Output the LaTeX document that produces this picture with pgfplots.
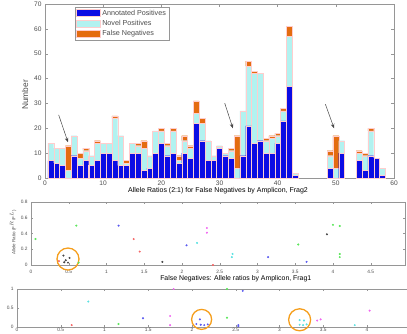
\documentclass[border=0pt]{standalone}
\usepackage{fontspec}
\setmainfont{Liberation Sans}
\usepackage{pgfplots}
\pgfplotsset{compat=1.18}
\usepackage{pgfplotstable}
\usetikzlibrary{arrows.meta}
\definecolor{annot}{RGB}{12,12,228}
\definecolor{novel}{RGB}{178,242,240}
\definecolor{fneg}{RGB}{228,108,16}
\definecolor{axiscol}{RGB}{150,150,150}
\definecolor{labcol}{RGB}{75,75,75}
\definecolor{ring}{RGB}{245,158,28}
\definecolor{edgecol}{RGB}{255,205,205}
\definecolor{pgreen}{RGB}{90,230,90}
\definecolor{pblue}{RGB}{90,90,240}
\definecolor{pred}{RGB}{245,100,100}
\definecolor{pblack}{RGB}{70,70,70}
\definecolor{pcyan}{RGB}{90,225,225}
\definecolor{pmag}{RGB}{240,100,240}
\pgfplotsset{mylegimg/.style={legend image code/.code={\fill[##1] (0pt,-3.3pt) rectangle (24pt,3.7pt);}}}
\pgfplotstableread{
x A N F
1 7 7 0
2 6 6 0
3 5 7 0
4 0 3 10
5 9 8 0
6 5 3 2
7 7 4 1
8 5 4 0
9 7 7 1
10 10 4 0
11 10 4 0
12 7 17 1
13 5 12 0
14 5 1 1
15 10 4 0
16 10 3 1
17 3 9 3
18 4 5 0
19 10 9 0
20 14 5 1
21 9 4 1
22 10 9 1
23 6 1 2
24 10 5 2
25 8 4 1
26 22 4 5
27 15 7 2
28 7 8 0
29 7 2 0
30 12 1 0
31 9 1 0
32 8 3 1
33 0 4 13
34 9 18 0
35 21 24 2
36 14 28 1
37 15 27 0
38 10 5 1
39 10 6 1
40 14 3 1
41 23 4 1
42 37 20 4
43 1 1 0
44 0 0 0
45 0 0 0
46 0 0 0
47 0 0 0
48 0 0 0
49 4 5 2
50 0 4 13
51 10 5 0
52 0 0 0
53 0 0 0
54 7 3 1
55 3 6 1
56 9 10 1
57 8 0 0
58 1 3 0
}\bars
\pgfplotsset{
  mybase/.style={
    scale only axis, anchor=south west, clip=false,
    axis line style={axiscol, line width=0.4pt},
    tick style={axiscol, line width=0.4pt},
    tick align=inside,
    /pgf/number format/assume math mode=true,
    ticklabel style={text=labcol},
  }
}
\begin{document}
\begin{tikzpicture}
\useasboundingbox (0pt,0pt) rectangle (407pt,333pt);
\clip (0pt,0pt) rectangle (407pt,333pt);
% ---------------- top: stacked bars ----------------
\begin{axis}[mybase,
  at={(45pt,155pt)}, width=349pt, height=174pt,
  xmin=0, xmax=60, ymin=0, ymax=70,
  xtick={0,10,20,30,40,50,60}, ytick={0,10,20,30,40,50,60,70},
  major tick length=3pt,
  ybar stacked, bar width=5.83pt,
  ticklabel style={font=\fontsize{6.6}{7}\selectfont},
  xticklabel style={inner sep=1pt, yshift=-1.2pt},
  ylabel={Number},
  ylabel style={font=\fontsize{8.4}{9}\selectfont, text=labcol, at={(axis description cs:-0.057,0.477)}, anchor=center},
  legend style={at={(0.086,0.983)}, anchor=north west, draw=axiscol, fill=white,
    font=\fontsize{7.2}{8}\selectfont, text=labcol, inner sep=0.8pt, row sep=-0.6pt,
    /tikz/every even column/.append style={column sep=1pt}},
  legend cell align=left,
]
\addplot[fill=annot, draw=edgecol, line width=0.25pt, mylegimg] table[x=x,y=A]{\bars};
\addplot[fill=novel, draw=edgecol, line width=0.25pt, mylegimg] table[x=x,y=N]{\bars};
\addplot[fill=fneg, draw=edgecol, line width=0.25pt, mylegimg] table[x=x,y=F]{\bars};
\legend{Annotated Positives, Novel Positives, False Negatives}
\draw[-{Stealth[length=4.5pt,width=3.6pt]}, pblack, line width=0.5pt] (axis cs:2.35,25.4) -- (axis cs:3.95,14.4);
\draw[-{Stealth[length=4.5pt,width=3.6pt]}, pblack, line width=0.5pt] (axis cs:30.9,30.1) -- (axis cs:32.3,20.0);
\draw[-{Stealth[length=4.5pt,width=3.6pt]}, pblack, line width=0.5pt] (axis cs:48.2,29.7) -- (axis cs:49.7,20.0);
\end{axis}
% ---------------- middle: Frag2 ----------------
\begin{axis}[mybase,
  at={(31pt,68pt)}, width=374pt, height=63pt,
  xmin=0, xmax=4.954, ymin=0, ymax=0.8,
  xtick={0,0.5,1,1.5,2,2.5,3,3.5,4,4.5}, ytick={0,0.2,0.4,0.6,0.8},
  major tick length=2pt,
  ticklabel style={font=\fontsize{4.8}{5}\selectfont},
  xticklabel style={yshift=-1.2pt},
  title={Allele Ratios (2:1) for False Negatives by Amplicon, Frag2},
  title style={font=\fontsize{7}{8}\selectfont, at={(0.5,1)}, anchor=base, yshift=4pt, inner sep=0pt},
  ylabel={Allele Ratio (F$^{R}$/F$^{L}$)},
  ylabel style={font=\fontsize{4.5}{5}\selectfont, text=labcol, at={(axis description cs:-0.048,0.516)}, anchor=center},
]
\addplot[only marks, mark=*, mark size=0.8pt, pgreen] coordinates {(0.06,0.33) (0.6,0.5) (0.63,0.03) (3.54,0.26) (4.0,0.51) (4.09,0.495) (4.09,0.14) (4.09,0.10)};
\addplot[only marks, mark=*, mark size=0.8pt, pblue] coordinates {(1.16,0.5) (2.06,0.25) (3.14,0.10) (3.65,0.04)};
\addplot[only marks, mark=*, mark size=0.8pt, pred] coordinates {(1.36,0.33) (1.44,0.17) (0.37,0.05) (2.41,0.0)};
\addplot[only marks, mark=*, mark size=0.8pt, pblack] coordinates {(1.74,0.04) (0.43,0.12) (0.51,0.09) (0.46,0.06) (0.49,0.03) (0.44,0.035) (3.92,0.39)};
\addplot[only marks, mark=*, mark size=0.8pt, pcyan] coordinates {(2.2,0.28) (2.67,0.14) (2.66,0.10)};
\addplot[only marks, mark=*, mark size=0.8pt, pmag] coordinates {(2.33,0.47) (2.33,0.41)};
\draw[ring, line width=1.3pt] (axis cs:0.49,0.076) circle[radius=11pt];
\end{axis}
% ---------------- bottom: Frag1 ----------------
\begin{axis}[mybase,
  at={(17pt,6pt)}, width=437.5pt, height=38pt,
  xmin=0, xmax=5, ymin=0, ymax=1,
  xtick={0,0.5,1,1.5,2,2.5,3,3.5,4}, ytick={0,0.5,1},
  major tick length=2pt,
  ticklabel style={font=\fontsize{4.8}{5}\selectfont},
  xticklabel style={inner sep=0.5pt},
  title={False Negatives: Allele ratios by Amplicon, Frag1},
  title style={font=\fontsize{6.9}{8}\selectfont, at={(0.5,1)}, anchor=base, yshift=2.5pt, inner sep=0pt},
]
\addplot[only marks, mark=*, mark size=0.8pt, pcyan] coordinates {(0.815,0.67) (3.23,0.18) (3.28,0.17) (3.23,0.06) (3.27,0.05) (3.31,0.07) (3.86,0.05)};
\addplot[only marks, mark=*, mark size=0.8pt, pred] coordinates {(0.625,0.05)};
\addplot[only marks, mark=*, mark size=0.8pt, pgreen] coordinates {(1.16,0.08) (2.40,0.245) (2.40,1.0)};
\addplot[only marks, mark=*, mark size=0.8pt, pblue] coordinates {(1.44,0.23) (2.09,0.2) (2.05,0.08) (2.1,0.06) (2.14,0.05) (2.18,0.07) (2.58,0.95) (2.53,0.05) (2.53,0.02)};
\addplot[only marks, mark=*, mark size=0.8pt, pmag] coordinates {(1.75,0.29) (1.75,0.05) (1.79,1.0) (3.43,0.17) (3.47,0.2) (4.03,0.43)};
\draw[ring, line width=1.3pt] (axis cs:2.11,0.2) circle[radius=10pt];
\draw[ring, line width=1.3pt] (axis cs:3.23,0.19) circle[radius=11pt];
\end{axis}
\end{tikzpicture}
\end{document}
